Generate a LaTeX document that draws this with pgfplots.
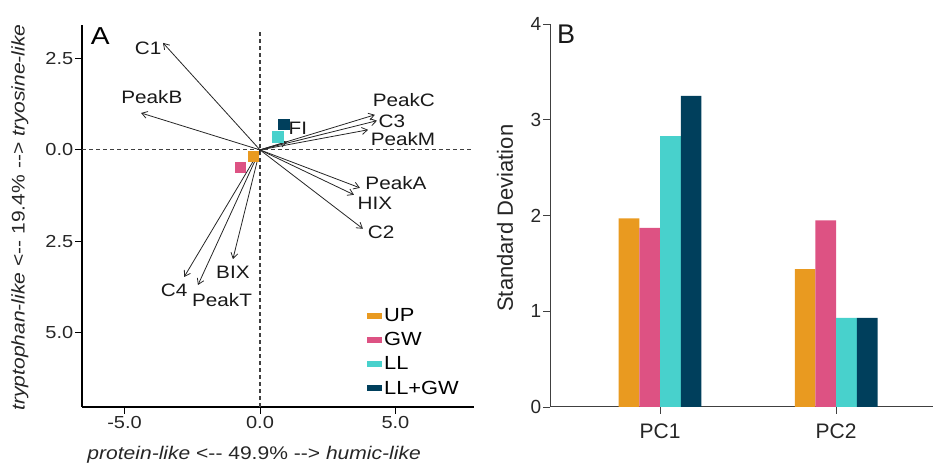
\documentclass[border=0pt]{standalone}
\usepackage{fontspec}
\setmainfont{Liberation Sans}
\newfontfamily\Afont{Liberation Sans}[FakeStretch=1.15]
\usepackage{pgfplots}
\pgfplotsset{compat=1.18}
\usetikzlibrary{arrows.meta}
\definecolor{cUP}{HTML}{E99A20}
\definecolor{cGW}{HTML}{DD5283}
\definecolor{cLL}{HTML}{48D1CC}
\definecolor{cLG}{HTML}{003F5C}
\tikzset{
  arr/.style={black!85, line width=0.8pt, -{Straight Barb[length=5.5pt, width=7pt]}},
  lab/.style={font=\Afont\fontsize{18}{21}\selectfont, text=black!90, inner sep=0pt},
}
\begin{document}
\begin{tikzpicture}[x=1pt,y=1pt]
\useasboundingbox (0,0) rectangle (933,468);
\begin{axis}[
  at={(82pt,61pt)}, anchor=south west,
  scale only axis, width=392pt, height=382pt,
  xmin=-6.57, xmax=7.9, ymin=-7.04, ymax=3.42,
  axis lines*=left,
  axis line style={black, line width=1.1pt},
  xtick={-5,0,5}, xticklabels={-5.0,0.0,5.0},
  ytick={-5,-2.5,0,2.5}, yticklabels={5.0,2.5,0.0,2.5},
  tick align=outside, major tick length=7pt,
  tick style={black, line width=0.8pt},
  tick label style={font=\Afont\fontsize{17.4}{20}\selectfont, text=black!85},
  xticklabel style={inner sep=2pt},
  yticklabel style={inner sep=1.5pt},
  xlabel={\textit{protein-like} <{-}{-} 49.9\% {-}{-}> \textit{humic-like}},
  ylabel={\textit{tryptophan-like} <{-}{-} 19.4\% {-}{-}> \textit{tryosine-like}},
  label style={font=\Afont\fontsize{18.3}{21}\selectfont, text=black!85},
  xlabel style={at={([yshift=-48pt]axis description cs:0.439,0)}, anchor=center},
  ylabel style={at={([xshift=-62pt]axis description cs:0,0.496)}, anchor=center},
  clip=false,
  legend image code/.code={\fill[#1, draw=none] (0pt,-3pt) rectangle (15pt,3pt);},
  legend style={at={(rel axis cs:0.727,0.264)}, anchor=north west, draw=none, fill=none,
    font=\Afont\fontsize{19}{22}\selectfont, row sep=5.5pt, inner sep=0pt, cells={anchor=west}},
]
\addplot[forget plot, black!75, line width=1.2pt, dash pattern=on 4pt off 3pt] coordinates {(0,-7.04) (0,3.29)};
\addplot[forget plot, black!75, line width=1.2pt, dash pattern=on 4pt off 3pt] coordinates {(-6.57,0) (7.9,0)};
\addplot[forget plot, arr] coordinates {(0,0) (-3.58,2.93)};
\addplot[forget plot, arr] coordinates {(0,0) (-4.39,1.01)};
\addplot[forget plot, arr] coordinates {(0,0) (4.24,0.96)};
\addplot[forget plot, arr] coordinates {(0,0) (4.32,0.80)};
\addplot[forget plot, arr] coordinates {(0,0) (3.99,0.55)};
\addplot[forget plot, arr] coordinates {(0,0) (1.00,0.22)};
\addplot[forget plot, arr] coordinates {(0,0) (3.69,-1.04)};
\addplot[forget plot, arr] coordinates {(0,0) (3.47,-1.23)};
\addplot[forget plot, arr] coordinates {(0,0) (3.80,-2.16)};
\addplot[forget plot, arr] coordinates {(0,0) (-1.00,-2.99)};
\addplot[forget plot, arr] coordinates {(0,0) (-2.80,-3.48)};
\addplot[forget plot, arr] coordinates {(0,0) (-2.29,-3.70)};
\addplot[forget plot, only marks, color=cUP, mark=square*, mark size=5.2pt, mark options={fill=cUP, draw=none}] coordinates {(-0.24,-0.18)};
\addplot[forget plot, only marks, color=cGW, mark=square*, mark size=5.2pt, mark options={fill=cGW, draw=none}] coordinates {(-0.74,-0.48)};
\addplot[forget plot, only marks, color=cLL, mark=square*, mark size=5.2pt, mark options={fill=cLL, draw=none}] coordinates {(0.65,0.36)};
\addplot[forget plot, only marks, color=cLG, mark=square*, mark size=5.2pt, mark options={fill=cLG, draw=none}] coordinates {(0.87,0.71)};
\node[lab] at (axis cs:-4.13,2.79) {C1};
\node[lab] at (axis cs:-3.99,1.45) {PeakB};
\node[lab] at (axis cs:5.31,1.37) {PeakC};
\node[lab] at (axis cs:4.87,0.77) {C3};
\node[lab] at (axis cs:5.28,0.30) {PeakM};
\node[lab] at (axis cs:1.40,0.60) {FI};
\node[lab] at (axis cs:5.02,-0.90) {PeakA};
\node[lab] at (axis cs:4.24,-1.45) {HIX};
\node[lab] at (axis cs:4.47,-2.25) {C2};
\node[lab] at (axis cs:-1.00,-3.34) {BIX};
\node[lab] at (axis cs:-3.17,-3.84) {C4};
\node[lab] at (axis cs:-1.40,-4.11) {PeakT};
\node[font=\Afont\fontsize{24.5}{28}\selectfont, inner sep=0pt] at (axis cs:-5.90,3.12) {A};
\addlegendimage{color=cUP, fill=cUP}
\addlegendentry{UP}
\addlegendimage{color=cGW, fill=cGW}
\addlegendentry{GW}
\addlegendimage{color=cLL, fill=cLL}
\addlegendentry{LL}
\addlegendimage{color=cLG, fill=cLG}
\addlegendentry{LL+GW}
\end{axis}
\begin{axis}[
  at={(550pt,61pt)}, anchor=south west,
  scale only axis, width=383pt, height=383pt,
  xmin=-0.625, xmax=1.55, ymin=0, ymax=4,
  axis lines*=left,
  axis line style={black!75, line width=1pt},
  ybar=0pt, bar width=20.7pt,
  xtick={0,1}, xticklabels={PC1,PC2},
  ytick={0,1,2,3,4}, yticklabels={0,1,2,3,4},
  tick align=outside, major tick length=7pt,
  tick style={black!75, line width=0.8pt},
  xticklabel style={font=\fontsize{21}{24}\selectfont, text=black!85, inner sep=4pt, yshift=-6pt},
  yticklabel style={font=\fontsize{19}{22}\selectfont, text=black!85, inner sep=1.5pt},
  ylabel={Standard Deviation},
  ylabel style={font=\fontsize{22}{25}\selectfont, text=black!85, at={([xshift=-45pt]axis description cs:0,0.493)}, anchor=center},
  clip=false,
]
\addplot[fill=cUP, draw=none] coordinates {(0,1.97) (1,1.44)};
\addplot[fill=cGW, draw=none] coordinates {(0,1.87) (1,1.95)};
\addplot[fill=cLL, draw=none] coordinates {(0,2.83) (1,0.93)};
\addplot[fill=cLG, draw=none] coordinates {(0,3.25) (1,0.93)};
\node[font=\fontsize{27}{30}\selectfont, text=black!90, inner sep=0pt] at (axis cs:-0.534,3.89) {B};
\end{axis}
\end{tikzpicture}
\end{document}
